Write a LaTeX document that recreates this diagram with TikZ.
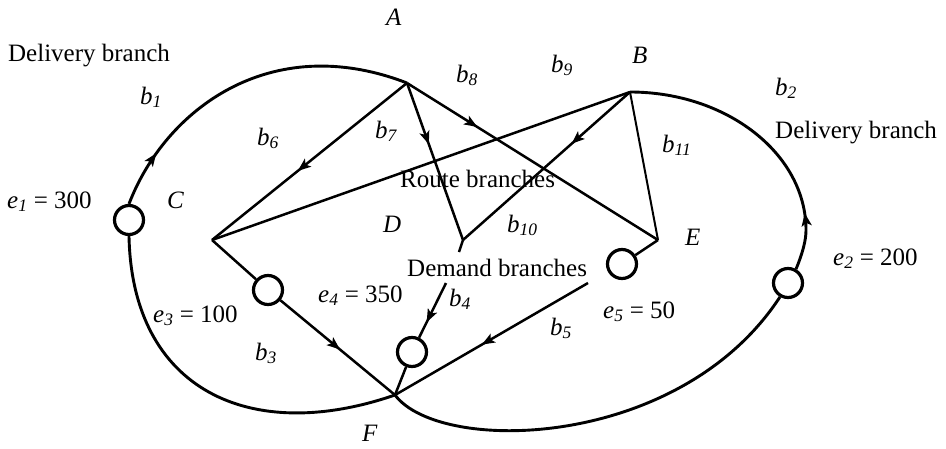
\documentclass[tikz,border=0pt]{standalone}
\usepackage{fontspec}
\setmainfont{Liberation Serif}
\usetikzlibrary{arrows.meta,decorations.markings}
\tikzset{
  looparc/.style={line width=2.9pt},
  edge/.style={line width=2.5pt},
  thinedge/.style={line width=2pt},
  port/.style={circle,draw,line width=3.2pt,minimum size=29pt,inner sep=0pt},
  midarrow/.style={postaction={decorate},decoration={markings,mark=at position #1 with {\arrow{Stealth[length=13pt,width=10pt,inset=3pt]}}}},
  lbl/.style={anchor=base west,inner sep=0pt,font=\fontsize{25}{30}\selectfont},
}
\newcommand{\symsub}[2]{\textit{#1}\textsubscript{\textit{#2}}}
\begin{document}
\begin{tikzpicture}[x=1pt,y=-1pt]
\useasboundingbox (0,0) rectangle (946,448);
% vertices
\coordinate (A) at (407,83);
\coordinate (B) at (630,92);
\coordinate (C) at (212,240);
\coordinate (D) at (463,240);
\coordinate (Ds) at (459,252);
\coordinate (E) at (658,240);
\coordinate (F) at (395,395);
\coordinate (b4s) at (446,283);
\coordinate (b5s) at (588,283);
% ports
\node[port] (c1) at (129,220) {};
\node[port] (c2) at (788,283) {};
\node[port] (c3) at (268,290) {};
\node[port] (c4) at (412,352) {};
\node[port] (c5) at (622,264) {};
% delivery loops
\draw[looparc, midarrow=0.17] (c1.north) .. controls (165,110) and (270,30) .. (A);
\draw[looparc] (c1.south) .. controls (132,390) and (250,445) .. (F);
\draw[looparc, midarrow=0.2] (c2.60) .. controls (803,252) and (806,240) .. (806,230) .. controls (806,154) and (727,92) .. (B);
\draw[looparc] (c2.240) .. controls (680,450) and (440,455) .. (F);
% route branches
\draw[edge, midarrow=0.56] (A) -- (C);
\draw[edge, midarrow=0.39] (A) -- (D);
\draw[edge, midarrow=0.28] (A) -- (E);
\draw[edge] (B) -- (C);
\draw[edge, midarrow=0.35] (B) -- (D);
\draw[thinedge] (B) -- (E);
\draw[edge] (D) -- (Ds);
% demand branches
\draw[edge] (C) -- (c3);
\draw[edge, midarrow=0.52] (c3) -- (F);
\draw[edge, midarrow=0.72] (b4s) -- (c4);
\draw[edge] (c4) -- (F);
\draw[edge, midarrow=0.55] (b5s) -- (F);
\draw[edge] (c5) -- (E);
% texts
\node[lbl] (t1) at (8,61) {Delivery branch};
\node[lbl] (t2) at (775,138) {Delivery branch};
\node[lbl] (t3) at (400,187) {Route branches};
\node[lbl] (t4) at (407,276) {Demand branches};
\node[lbl] (lA) at (386,25) {\textit{A}};
\node[lbl] (lB) at (632,63) {\textit{B}};
\node[lbl] (lC) at (167,208) {\textit{C}};
\node[lbl] (lD) at (383,232) {\textit{D}};
\node[lbl] (lE) at (685,245) {\textit{E}};
\node[lbl] (lF) at (362,441) {\textit{F}};
\node[lbl] (l1) at (140,104) {\symsub{b}{1}};
\node[lbl] (l2) at (775,95) {\symsub{b}{2}};
\node[lbl] (l3) at (255,360) {\symsub{b}{3}};
\node[lbl] (l4) at (449,306) {\symsub{b}{4}};
\node[lbl] (l5) at (550,335) {\symsub{b}{5}};
\node[lbl] (l6) at (257,145) {\symsub{b}{6}};
\node[lbl] (l7) at (375,138) {\symsub{b}{7}};
\node[lbl] (l8) at (456,82) {\symsub{b}{8}};
\node[lbl] (l9) at (551,72) {\symsub{b}{9}};
\node[lbl] (l10) at (507,232) {\symsub{b}{10}};
\node[lbl] (l11) at (662,152) {\symsub{b}{11}};
\node[lbl] (e1) at (7,208) {\symsub{e}{1} = 300};
\node[lbl] (e2) at (833,265) {\symsub{e}{2} = 200};
\node[lbl] (e3) at (153,322) {\symsub{e}{3} = 100};
\node[lbl] (e4) at (318,302) {\symsub{e}{4} = 350};
\node[lbl] (e5) at (603,318) {\symsub{e}{5} = 50};
\end{tikzpicture}
\end{document}
